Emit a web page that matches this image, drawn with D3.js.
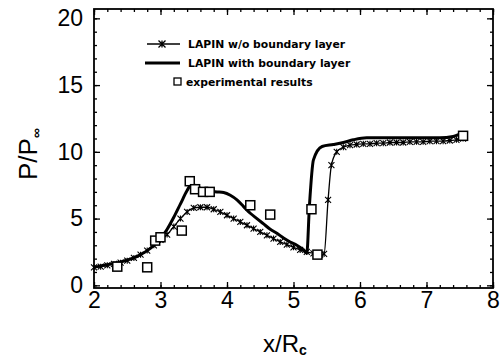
<!DOCTYPE html>
<html><head><meta charset="utf-8">
<script src="https://cdn.jsdelivr.net/npm/d3@7"></script>
<style>body{margin:0;background:#fff}svg{display:block}</style>
</head><body>
<script>
// ---- data ----
const woX = [2.0,2.1,2.2,2.3,2.4,2.5,2.6,2.7,2.8,2.9,3.0,3.1,3.2,3.3,3.4,3.5,3.6,3.7,3.8,3.9,4.0,4.1,4.2,4.3,4.4,4.5,4.6,4.7,4.8,4.9,5.0,5.1,5.2,5.3,5.4,5.46,5.52,5.57,5.65,5.75,5.85,5.95,6.05,6.15,6.25,6.35,6.45,6.55,6.65,6.75,6.85,6.95,7.05,7.15,7.25,7.35,7.45,7.55];
const woY = [1.35,1.4,1.5,1.6,1.7,1.85,2.05,2.3,2.6,3.0,3.4,3.8,4.4,5.0,5.5,5.8,5.85,5.85,5.7,5.5,5.25,5.0,4.75,4.5,4.25,4.0,3.75,3.5,3.25,3.05,2.85,2.65,2.5,2.4,2.3,2.35,6.4,9.0,10.0,10.35,10.5,10.55,10.6,10.6,10.65,10.65,10.7,10.7,10.7,10.75,10.75,10.75,10.8,10.8,10.8,10.85,10.9,11.0];
const withX = [2.0,2.1,2.2,2.3,2.4,2.5,2.6,2.7,2.8,2.9,3.0,3.1,3.2,3.3,3.4,3.47,3.55,3.65,3.75,3.85,3.95,4.05,4.15,4.25,4.35,4.45,4.55,4.65,4.75,4.85,4.95,5.05,5.15,5.2,5.24,5.3,5.43,5.6,5.75,5.9,6.1,6.3,6.6,6.9,7.2,7.4,7.5,7.58];
const withY = [1.35,1.45,1.55,1.65,1.75,1.9,2.05,2.3,2.6,3.0,3.5,4.2,5.1,6.1,7.1,7.6,7.4,7.15,7.05,7.0,6.95,6.75,6.4,5.9,5.4,5.0,4.6,4.2,3.9,3.55,3.25,3.0,2.65,2.4,6.0,9.4,10.4,10.55,10.7,10.9,11.05,11.05,11.05,11.05,11.05,11.15,11.3,11.2];
const expX = [2.35,2.8,2.92,3.0,3.32,3.44,3.52,3.64,3.74,4.35,4.65,5.27,5.36,7.55];
const expY = [1.4,1.35,3.35,3.6,4.1,7.8,7.2,7.0,7.0,6.0,5.3,5.7,2.3,11.2];
const xTickLabels = [2,3,4,5,6,7,8];
const yTickLabels = [0,5,10,15,20];
const legendLabels = ["LAPIN w/o boundary layer","LAPIN with boundary layer","experimental results"];

// ---- layout ----
const W = 502, H = 362;
const L = 94, R = 493, T = 9, B = 288;
const svg = d3.select("body").append("svg").attr("width", W).attr("height", H);
const x = d3.scaleLinear().domain([2, 8]).range([L, R]);
const y = d3.scaleLinear().domain([-0.2, 20.7]).range([B, T]);
const tickFont = "'Liberation Sans', Arial, sans-serif";

function styleAxis(g) {
  g.select(".domain").remove();
  g.selectAll("line").attr("stroke", "#000").attr("stroke-width", 1.3);
}
// minor ticks
svg.append("g").attr("transform", `translate(0,${B})`)
  .call(d3.axisBottom(x).tickValues(d3.range(2, 8.001, 0.2)).tickSize(-3).tickFormat(""))
  .call(styleAxis);
svg.append("g").attr("transform", `translate(0,${T})`)
  .call(d3.axisTop(x).tickValues(d3.range(2, 8.001, 0.2)).tickSize(-3).tickFormat(""))
  .call(styleAxis);
svg.append("g").attr("transform", `translate(${L},0)`)
  .call(d3.axisLeft(y).tickValues(d3.range(0, 20.001, 1)).tickSize(-3).tickFormat(""))
  .call(styleAxis);
svg.append("g").attr("transform", `translate(${R},0)`)
  .call(d3.axisRight(y).tickValues(d3.range(0, 20.001, 1)).tickSize(-3).tickFormat(""))
  .call(styleAxis);
// major ticks + labels
const xb = svg.append("g").attr("transform", `translate(0,${B})`)
  .call(d3.axisBottom(x).tickValues(xTickLabels).tickSize(-6).tickPadding(4).tickFormat(d3.format("d")))
  .call(styleAxis);
xb.selectAll("text").attr("font-family", tickFont).attr("font-size", 23).attr("fill", "#000");
svg.append("g").attr("transform", `translate(0,${T})`)
  .call(d3.axisTop(x).tickValues(xTickLabels).tickSize(-6).tickFormat(""))
  .call(styleAxis);
const yl = svg.append("g").attr("transform", `translate(${L},0)`)
  .call(d3.axisLeft(y).tickValues(yTickLabels).tickSize(-6).tickPadding(11).tickFormat(d3.format("d")))
  .call(styleAxis);
yl.selectAll("text").attr("font-family", tickFont).attr("font-size", 23).attr("fill", "#000");
svg.append("g").attr("transform", `translate(${R},0)`)
  .call(d3.axisRight(y).tickValues(yTickLabels).tickSize(-6).tickFormat(""))
  .call(styleAxis);

// frame
svg.append("rect").attr("x", L).attr("y", T).attr("width", R - L).attr("height", B - T)
  .attr("fill", "none").attr("stroke", "#000").attr("stroke-width", 1.8);

// ---- series ----
const line = d3.line().x(d => x(d[0])).y(d => y(d[1])).curve(d3.curveMonotoneX);
const woData = woX.map((v, i) => [v, woY[i]]);
const withData = withX.map((v, i) => [v, withY[i]]);
const expData = expX.map((v, i) => [v, expY[i]]);

svg.append("path").datum(woData).attr("d", line)
  .attr("fill", "none").attr("stroke", "#000").attr("stroke-width", 1.3);
const xMark = (cx, cy, s) => `M${cx - s},${cy - s}L${cx + s},${cy + s}M${cx - s},${cy + s}L${cx + s},${cy - s}M${cx},${cy - s}L${cx},${cy + s}`;
svg.append("g").selectAll("path").data(woData).join("path")
  .attr("d", d => xMark(x(d[0]), y(d[1]), 3))
  .attr("stroke", "#000").attr("stroke-width", 1.1).attr("fill", "none");

svg.append("path").datum(withData).attr("d", line)
  .attr("fill", "none").attr("stroke", "#000").attr("stroke-width", 3).attr("stroke-linejoin", "round");

svg.append("g").selectAll("rect").data(expData).join("rect")
  .attr("x", d => x(d[0]) - 4.5).attr("y", d => y(d[1]) - 4.5)
  .attr("width", 9).attr("height", 9)
  .attr("fill", "#fff").attr("stroke", "#000").attr("stroke-width", 1.5);

// ---- legend ----
const lg = svg.append("g").attr("font-family", "'DejaVu Sans', sans-serif")
  .attr("font-weight", "bold").attr("font-size", 10.8);
lg.append("line").attr("x1", 147).attr("x2", 180).attr("y1", 44).attr("y2", 44)
  .attr("stroke", "#000").attr("stroke-width", 1.3);
lg.append("path").attr("d", xMark(162, 44, 3.5)).attr("stroke", "#000").attr("stroke-width", 1.3);
lg.append("line").attr("x1", 145).attr("x2", 180).attr("y1", 63).attr("y2", 63)
  .attr("stroke", "#000").attr("stroke-width", 3);
lg.append("rect").attr("x", 174).attr("y", 78).attr("width", 7).attr("height", 7)
  .attr("fill", "#fff").attr("stroke", "#000").attr("stroke-width", 1.3);
lg.append("text").attr("x", 188).attr("y", 48).text(legendLabels[0]);
lg.append("text").attr("x", 188).attr("y", 67).text(legendLabels[1]);
lg.append("text").attr("x", 186).attr("y", 86).text(legendLabels[2]);

// ---- axis titles ----
const xt = svg.append("text").attr("x", 285).attr("y", 352).attr("text-anchor", "middle")
  .attr("font-family", tickFont).attr("font-size", 24);
xt.append("tspan").text("x/R");
xt.append("tspan").attr("dy", 3).attr("font-size", 14).attr("font-weight", "bold").text("c");

const yt = svg.append("text").attr("transform", "translate(37,180) rotate(-90)")
  .attr("font-family", tickFont).attr("font-size", 26);
yt.append("tspan").text("P/P");
yt.append("tspan").attr("dy", 4).attr("font-size", 14).attr("font-weight", "bold").text("∞");
</script>
</body></html>
